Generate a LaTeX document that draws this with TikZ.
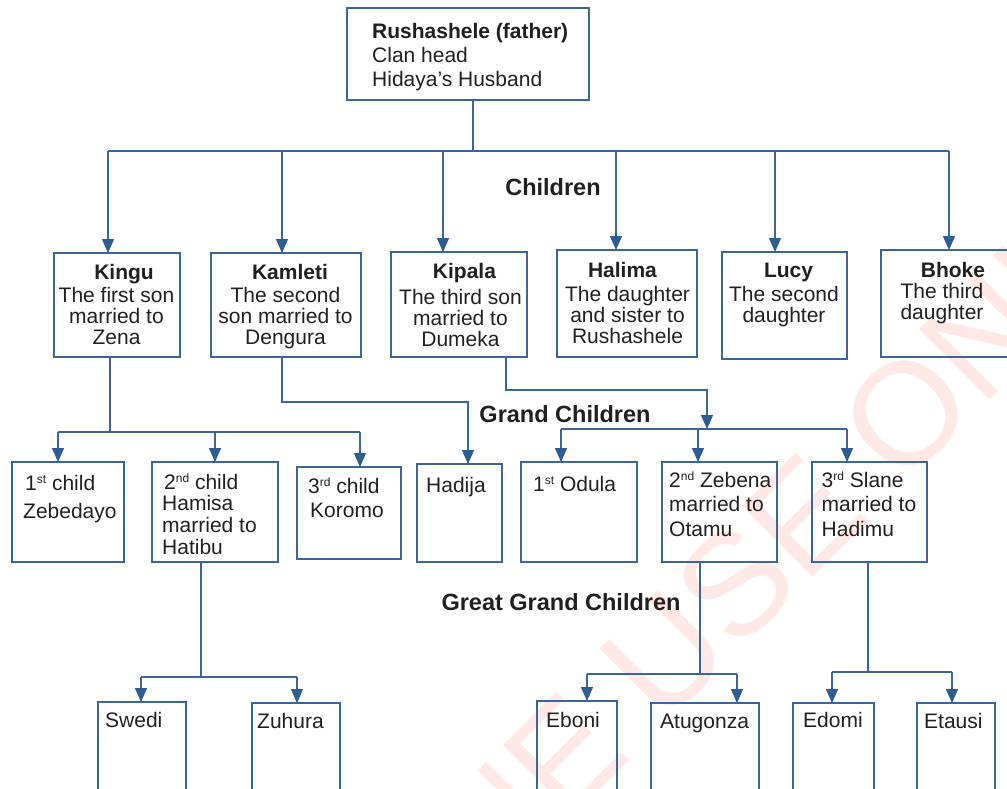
\documentclass[tikz,border=0pt]{standalone}
\usepackage{fontspec}
\setmainfont{Liberation Sans}
\usetikzlibrary{arrows.meta}
\definecolor{ln}{RGB}{59,100,160}
\definecolor{ah}{RGB}{46,92,150}
\definecolor{tx}{RGB}{35,31,32}
\definecolor{wm}{RGB}{255,233,230}
\newcommand\tp{\rule{0pt}{20pt}}
\newcommand\sups[1]{\raisebox{7pt}{\fontsize{12}{12}\selectfont #1}}
\begin{document}
\begin{tikzpicture}[x=1pt,y=-1pt,
  box/.style={draw=ln, line width=1.3pt, inner sep=0pt, outer sep=0pt, anchor=north west},
  line/.style={draw=ln, line width=1.3pt},
  arr/.style={line, -{Triangle[length=14pt,width=12pt,color=ah]}},
  txtc/.style={text=tx, inner sep=0pt, anchor=north, align=center, font=\fontsize{21}{21}\selectfont},
  txtl/.style={text=tx, inner sep=0pt, anchor=north west, align=left, font=\fontsize{21}{21}\selectfont},
  lbl/.style={text=tx, inner sep=0pt, anchor=base, font=\fontsize{23.5}{24}\selectfont\bfseries}]
\useasboundingbox (0,0) rectangle (1007,788);
\clip (0,0) rectangle (1007,788);
% watermark
\node[text=wm, inner sep=0pt, anchor=base, rotate=45, font=\fontsize{145}{145}\selectfont] (wmark) at (590,800) {FOR ONLINE USE ONLY};
% boxes
\node[box, minimum width=242pt, minimum height=92pt] (top) at (347,8) {};
\node[box, minimum width=126pt, minimum height=104pt] (kingu) at (54,253) {};
\node[box, minimum width=150pt, minimum height=104pt] (kamleti) at (211,253) {};
\node[box, minimum width=136pt, minimum height=105pt] (kipala) at (391,252) {};
\node[box, minimum width=140pt, minimum height=107pt] (halima) at (557,250) {};
\node[box, minimum width=125pt, minimum height=107pt] (lucy) at (722,252) {};
\node[box, minimum width=150pt, minimum height=107pt] (bhoke) at (881,250) {};
\node[box, minimum width=112pt, minimum height=100pt] (zeb) at (12,462) {};
\node[box, minimum width=126pt, minimum height=100pt] (hamisa) at (152,462) {};
\node[box, minimum width=104pt, minimum height=92pt] (koromo) at (297,467) {};
\node[box, minimum width=85pt, minimum height=98pt] (hadija) at (417,464) {};
\node[box, minimum width=116pt, minimum height=100pt] (odula) at (521,462) {};
\node[box, minimum width=115pt, minimum height=100pt] (zebena) at (662,462) {};
\node[box, minimum width=115pt, minimum height=100pt] (slane) at (812,462) {};
\node[box, minimum width=88pt, minimum height=100pt] (swedi) at (98,702) {};
\node[box, minimum width=88pt, minimum height=100pt] (zuhura) at (252,703) {};
\node[box, minimum width=80pt, minimum height=100pt] (eboni) at (537,701) {};
\node[box, minimum width=108pt, minimum height=100pt] (atugonza) at (651,703) {};
\node[box, minimum width=81pt, minimum height=100pt] (edomi) at (793,703) {};
\node[box, minimum width=78pt, minimum height=100pt] (etausi) at (917,703) {};
% texts
\node[txtl, font=\fontsize{21}{24}\selectfont] (ttop) at (372,18) {\tp\textbf{Rushashele (father)}\\Clan head\\Hidaya's Husband};
\node[txtc] (tkingu) at (116.5,259) {\tp\hspace*{15pt}\textbf{Kingu}\\[2pt]The first son\\married to\\Zena};
\node[txtc] (tkamleti) at (285.5,259) {\tp\hspace*{9pt}\textbf{Kamleti}\\[2pt]The second\\son married to\\Dengura};
\node[txtc] (tkipala) at (460.5,258) {\tp\hspace*{8pt}\textbf{Kipala}\\[5pt]The third son\\married to\\Dumeka};
\node[txtc] (thalima) at (627.5,257.7) {\tp\hspace*{-10pt}\textbf{Halima}\\[3pt]The daughter\\and sister to\\Rushashele};
\node[txtc] (tlucy) at (784,257.7) {\tp\hspace*{9pt}\textbf{Lucy}\\[3pt]The second\\daughter};
\node[txtc] (tbhoke) at (942,257.7) {\tp\hspace*{22pt}\textbf{Bhoke}\\The third\\daughter};
\node[txtl] (tzeb) at (23,470) {\tp\hspace*{2pt}1\sups{st} child\\[7pt]Zebedayo};
\node[txtl, font=\fontsize{21}{21.7}\selectfont] (thamisa) at (162,469) {\tp\hspace*{2pt}2\sups{nd} child\\Hamisa\\married to\\Hatibu};
\node[txtl] (tkoromo) at (308,473) {\tp 3\sups{rd} child\\[3pt]\hspace*{2pt}Koromo};
\node[txtl] (thadija) at (426,472) {\tp Hadija};
\node[txtl] (todula) at (533,471) {\tp 1\sups{st} Odula};
\node[txtl, font=\fontsize{21}{24.5}\selectfont] (tzebena) at (669,467) {\tp 2\sups{nd} Zebena\\married to\\Otamu};
\node[txtl, font=\fontsize{21}{24.5}\selectfont] (tslane) at (821.5,467) {\tp 3\sups{rd} Slane\\married to\\Hadimu};
\node[txtl] (tswedi) at (105,707) {\tp Swedi};
\node[txtl] (tzuhura) at (257,708) {\tp Zuhura};
\node[txtl] (teboni) at (546,707) {\tp Eboni};
\node[txtl] (tatugonza) at (660,708) {\tp Atugonza};
\node[txtl] (tedomi) at (803,707) {\tp Edomi};
\node[txtl] (tetausi) at (924,708) {\tp Etausi};
% labels
\node[lbl] (lchildren) at (553,195) {Children};
\node[lbl] (lgrand) at (565,422) {Grand Children};
\node[lbl] (lgreat) at (561,610) {Great Grand Children};
% connectors: father -> children
\coordinate (t0) at ([xshift=5pt]top.south);
\path (t0) ++(0,51) coordinate (cb);
\coordinate (c1) at ([xshift=-9pt]kingu.north);
\coordinate (c2) at ([xshift=-4pt]kamleti.north);
\coordinate (c3) at ([xshift=-16pt]kipala.north);
\coordinate (c4) at ([xshift=-11pt]halima.north);
\coordinate (c5) at ([xshift=-9.5pt]lucy.north);
\coordinate (c6) at ([xshift=-7pt]bhoke.north);
\draw[line] (t0) -- (cb);
\draw[line] (c1 |- cb) -- (c6 |- cb);
\foreach \c in {c1,c2,c3,c4,c5,c6} \draw[arr] (\c |- cb) -- (\c);
% Kingu -> grandchildren
\coordinate (k0) at ([xshift=-7pt]kingu.south);
\path (k0) ++(0,75) coordinate (kb);
\coordinate (g1) at ([xshift=-10pt]zeb.north);
\coordinate (g2) at (hamisa.north);
\coordinate (g3) at ([xshift=11pt]koromo.north);
\draw[line] (k0) -- (kb);
\draw[line] (g1 |- kb) -- (g3 |- kb);
\foreach \g in {g1,g2,g3} \draw[arr] (\g |- kb) -- (\g);
% Kamleti -> Hadija
\coordinate (m0) at ([xshift=-4pt]kamleti.south);
\path (m0) ++(0,45) coordinate (mb);
\coordinate (m1) at ([xshift=8.5pt]hadija.north);
\draw[arr] (m0) -- (mb) -| (m1);
% Kipala -> grandchildren
\coordinate (p0) at ([xshift=47pt]kipala.south);
\path (p0) ++(0,33) coordinate (pb);
\coordinate (g4) at ([xshift=-18pt]odula.north);
\coordinate (g5) at ([xshift=-21.5pt]zebena.north);
\coordinate (g6) at ([xshift=-22.5pt]slane.north);
\path (g4) ++(0,-33) coordinate (gb);
\coordinate (pj) at ([xshift=-12.5pt]zebena.north);
\draw[arr] (p0) -- (pb) -| (pj |- gb);
\draw[line] (g4 |- gb) -- (g6 |- gb);
\foreach \g in {g4,g5,g6} \draw[arr] (\g |- gb) -- (\g);
% Hamisa -> great grandchildren
\coordinate (h0) at ([xshift=-14pt]hamisa.south);
\path (h0) ++(0,115) coordinate (hb);
\coordinate (e1) at ([xshift=-1pt]swedi.north);
\coordinate (e2) at ([xshift=1pt]zuhura.north);
\draw[line] (h0) -- (hb);
\draw[line] (e1 |- hb) -- (e2 |- hb);
\foreach \e in {e1,e2} \draw[arr] (\e |- hb) -- (\e);
% Zebena -> great grandchildren
\coordinate (z0) at ([xshift=-19.5pt]zebena.south);
\path (z0) ++(0,112) coordinate (zb);
\coordinate (e3) at ([xshift=10pt]eboni.north);
\coordinate (e4) at ([xshift=32pt]atugonza.north);
\draw[line] (z0) -- (zb);
\draw[line] (e3 |- zb) -- (e4 |- zb);
\foreach \e in {e3,e4} \draw[arr] (\e |- zb) -- (\e);
% Slane -> great grandchildren
\coordinate (s0) at ([xshift=-1.5pt]slane.south);
\path (s0) ++(0,110) coordinate (sb);
\coordinate (e5) at ([xshift=-1.5pt]edomi.north);
\coordinate (e6) at ([xshift=-4pt]etausi.north);
\draw[line] (s0) -- (sb);
\draw[line] (e5 |- sb) -- (e6 |- sb);
\foreach \e in {e5,e6} \draw[arr] (\e |- sb) -- (\e);
\end{tikzpicture}
\end{document}
